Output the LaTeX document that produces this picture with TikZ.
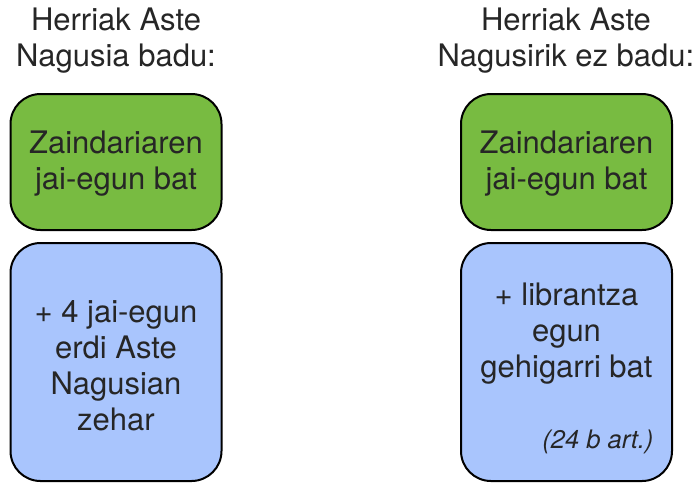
\documentclass[tikz,border=0pt]{standalone}
\usepackage{fontspec}
\setmainfont{TeX Gyre Heros}
\definecolor{boxgreen}{RGB}{120,187,65}
\definecolor{boxblue}{RGB}{169,197,253}
\begin{document}
\begin{tikzpicture}[x=1pt,y=-1pt,
  box/.style={draw=black,line width=2pt,rounded corners=30pt,minimum width=211pt,inner sep=0pt},
  greenbox/.style={box,fill=boxgreen,minimum height=136pt},
  bluebox/.style={box,fill=boxblue,minimum height=238pt},
  txt/.style={align=center,font=\fontsize{31}{36}\selectfont,text=black!85},
  note/.style={font=\fontsize{25.5}{28}\selectfont\itshape,text=black!85}]
\useasboundingbox (0,0) rectangle (695,483);
\node[txt] (t1) at (116,41) {Herriak Aste\\Nagusia badu:};
\node[txt] (t2) at (566,41) {Herriak Aste\\Nagusirik ez badu:};
\node[greenbox] (g1) at (116,162) {};
\node[greenbox] (g2) at (566.5,162) {};
\node[bluebox] (b1) at (116,362) {};
\node[bluebox] (b2) at (566.5,362) {};
\node[txt] (g1t) at (116,164) {Zaindariaren\\jai-egun bat};
\node[txt] (g2t) at (566.5,164) {Zaindariaren\\jai-egun bat};
\node[txt] (b1t) at (116,366) {+ 4 jai-egun\\erdi Aste\\Nagusian\\zehar};
\node[txt] (b2t) at (566.5,334) {+ librantza\\egun\\gehigarri bat};
\node[note,anchor=base east] (n2) at (657,448) {(24 b art.)};
\end{tikzpicture}
\end{document}
